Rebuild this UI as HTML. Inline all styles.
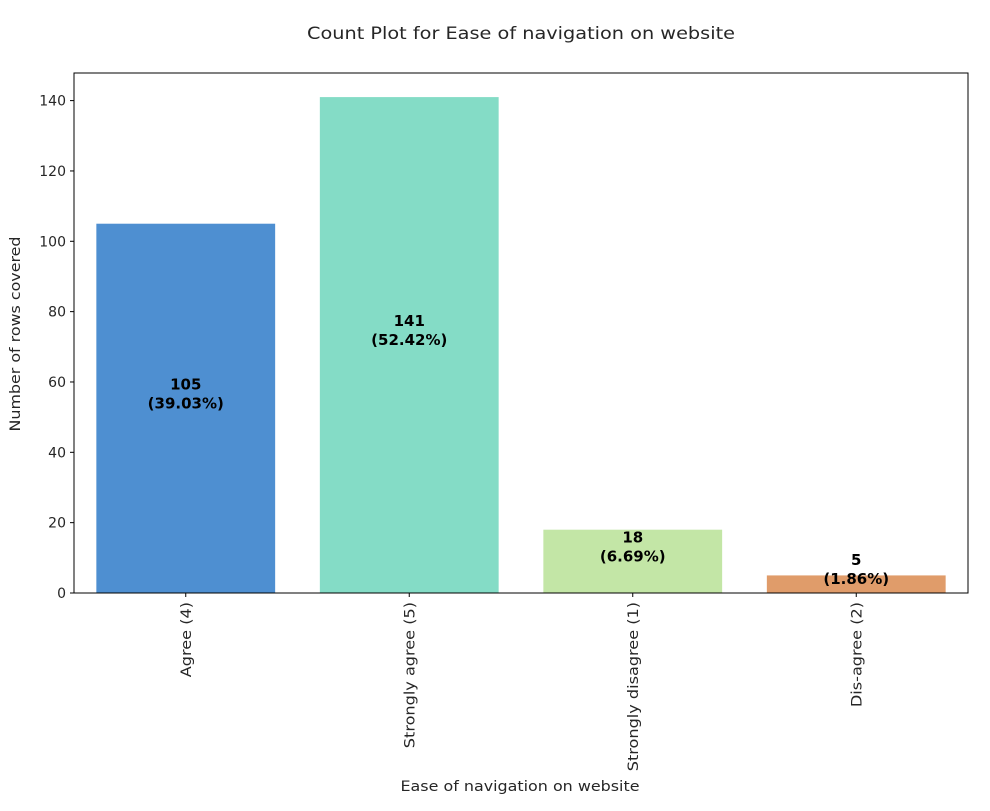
<!DOCTYPE html>
<html><head><meta charset="utf-8"><style>
body{margin:0;background:#fff;}
text{font-family:"DejaVu Sans","Liberation Sans",sans-serif;fill:#262626;}
</style></head><body>
<svg id="chart" width="990" height="806" xmlns="http://www.w3.org/2000/svg">
<text x="521" y="39" text-anchor="middle" font-size="17" textLength="428" lengthAdjust="spacingAndGlyphs">Count Plot for Ease of navigation on website</text>
<g id="bars"></g><g id="labels"></g><g id="yticks"></g><g id="xticks"></g>
<rect x="74" y="73" width="894" height="520" fill="none" stroke="#000" stroke-width="1"/>
<text x="520" y="791" text-anchor="middle" font-size="14" textLength="239" lengthAdjust="spacingAndGlyphs">Ease of navigation on website</text>
<text transform="translate(20,334) rotate(-90)" text-anchor="middle" font-size="14" textLength="195" lengthAdjust="spacingAndGlyphs">Number of rows covered</text>
</svg>
<script>
const categories=["Agree (4)","Strongly agree (5)","Strongly disagree (1)","Dis-agree (2)"];
const counts=[105,141,18,5];
const percents=["39.03%","52.42%","6.69%","1.86%"];
const colors=["#4e8fd1","#84dcc6","#c3e6a6","#e09c6a"];
const yTicks=[0,20,40,60,80,100,120,140];
const L=74,R=968,T=73,B=593,ymax=147.85;
const ns="http://www.w3.org/2000/svg";
const y=v=>B-v*(B-T)/ymax;
const band=(R-L)/categories.length;
const xc=i=>L+band*(i+0.5);
function mk(tag,attrs,parent,txt){const e=document.createElementNS(ns,tag);for(const k in attrs)e.setAttribute(k,attrs[k]);if(txt!==undefined)e.textContent=txt;document.getElementById(parent).appendChild(e);return e;}
categories.forEach((c,i)=>{
 const w=band*0.8;
 const r=mk('rect',{x:xc(i)-w/2,y:y(counts[i]),width:w,height:B-y(counts[i]),fill:colors[i]},'bars');
 
 
 const t=mk('text',{x:xc(i),y:y(counts[i]/2),'text-anchor':'middle','font-size':'15','font-weight':'bold',style:'fill:#000'},'labels');
 
 
 const s1=document.createElementNS(ns,'tspan');s1.setAttribute('x',xc(i));s1.setAttribute('dy','-19');s1.textContent=counts[i];t.appendChild(s1);
 const s2=document.createElementNS(ns,'tspan');s2.setAttribute('x',xc(i));s2.setAttribute('dy','19');s2.textContent='('+percents[i]+')';t.appendChild(s2);
 const tk=mk('line',{x1:xc(i),x2:xc(i),y1:B,y2:B+4,stroke:'#000'},'xticks');
 
 
 const tl=mk('text',{transform:`translate(${xc(i)+5},${B+9}) rotate(-90) scale(1.15,1)`,'text-anchor':'end','font-size':'14'},'xticks',c);
 
 
});
yTicks.forEach(v=>{
 const l=mk('line',{x1:L-4,x2:L,y1:y(v),y2:y(v),stroke:'#000'},'yticks');
 
 
 const t=mk('text',{x:L-8,y:y(v)+5,'text-anchor':'end','font-size':'14'},'yticks',v);
 
 
});
</script>
</body></html>
